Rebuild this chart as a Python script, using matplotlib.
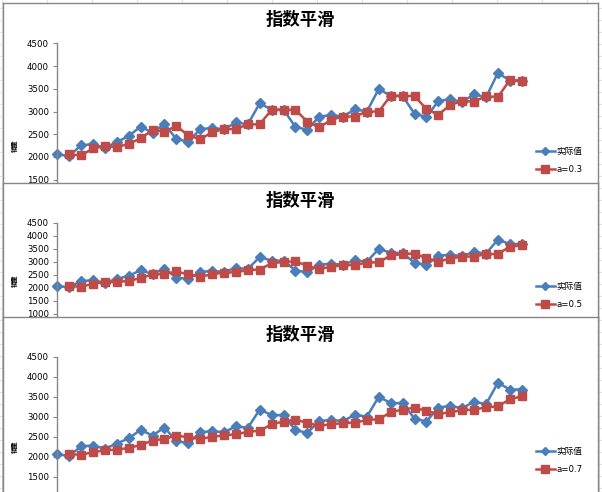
import matplotlib
matplotlib.use("Agg")
import matplotlib.pyplot as plt
from matplotlib.lines import Line2D

plt.rcParams['font.family'] = ['DejaVu Sans', 'Noto Sans CJK SC']

# actual values (40 periods)
actual = [2060, 2020, 2260, 2280, 2200, 2330, 2460, 2670, 2530, 2730,
          2390, 2340, 2610, 2640, 2610, 2760, 2720, 3180, 3040, 3040,
          2660, 2600, 2890, 2920, 2890, 3050, 3000, 3500, 3340, 3340,
          2950, 2880, 3230, 3270, 3210, 3380, 3310, 3850, 3680, 3680]

# smoothed values, start at period 2
smooth_03 = [2060, 2035, 2190, 2240, 2215, 2290, 2410, 2595, 2560, 2680,
             2475, 2390, 2545, 2615, 2615, 2715, 2720, 3040, 3040, 3040,
             2775, 2650, 2820, 2890, 2890, 3000, 3000, 3350, 3345, 3340,
             3055, 2930, 3145, 3230, 3220, 3335, 3320, 3690, 3675]
smooth_05 = [2060, 2040, 2150, 2215, 2210, 2270, 2365, 2515, 2525, 2625,
             2510, 2425, 2515, 2580, 2595, 2675, 2700, 2940, 2990, 3015,
             2840, 2720, 2805, 2860, 2875, 2965, 2980, 3240, 3290, 3315,
             3135, 3005, 3120, 3195, 3200, 3290, 3300, 3575, 3630]
smooth_07 = [2060, 2050, 2110, 2160, 2175, 2220, 2290, 2405, 2445, 2530,
             2485, 2445, 2495, 2535, 2560, 2620, 2650, 2810, 2880, 2925,
             2845, 2775, 2810, 2840, 2855, 2915, 2940, 3110, 3180, 3225,
             3145, 3065, 3115, 3160, 3175, 3235, 3260, 3435, 3510]

labels = ["a=0.3", "a=0.5", "a=0.7"]
series = [smooth_03, smooth_05, smooth_07]
# lowest tick label still visible on each chart
low_tick = [1500, 1000, 1500]

W, H = 602, 492
BLUE = '#4A7EBB'
RED = '#BE4B48'
GRAY = '#868686'


def box(x0, y0, x1, y1):
    return [x0 / W, 1 - y1 / H, (x1 - x0) / W, (y1 - y0) / H]


fig = plt.figure(figsize=(W / 100, H / 100), dpi=100)

# spreadsheet behind the charts
bg = fig.add_axes([0, 0, 1, 1])
bg.set_xlim(0, W)
bg.set_ylim(H, 0)
bg.axis('off')
for x in range(2, W, 45):
    bg.axvline(x, color='#DDE2EC', lw=0.8)
for y in range(8, H, 12):
    bg.axhline(y, color='#DDE2EC', lw=0.8)

# panel layout in pixels: top border, title y, y of 4500, y of 2000, legend rows
tops = [3, 183, 317]
title_y = [20, 201, 335]
y4500 = [43.3, 222.7, 356.7]
y2000 = [157, 287.7, 456.7]
leg_y = [155, 290, 455]

x_idx = list(range(len(actual)))
ax_left, ax_right = 57.3, 521.7

for i in range(3):
    panel = fig.add_axes(box(3, tops[i], 598, H + 10))
    panel.set_facecolor('white')
    panel.set_xticks([])
    panel.set_yticks([])
    for s in panel.spines.values():
        s.set_color(GRAY)
        s.set_linewidth(1)

    step = (y2000[i] - y4500[i]) / 5
    y0 = y4500[i] + 9 * step
    ax = fig.add_axes(box(ax_left, y4500[i], ax_right, y0))
    ax.set_facecolor('none')
    ax.plot(x_idx, actual, color=BLUE, lw=1.8, marker='D', ms=5,
            mec=BLUE, mfc=BLUE, clip_on=False, label='实际值')
    ax.plot(x_idx[1:], series[i], color=RED, lw=1.8, marker='s', ms=5.5,
            mec=RED, mfc=RED, clip_on=False, label=labels[i])
    ax.set_xlim(0, 39)
    ax.set_ylim(0, 4500)
    ax.set_yticks(range(low_tick[i], 4501, 500))
    ax.set_xticks([])
    for s in ['top', 'right', 'bottom']:
        ax.spines[s].set_visible(False)
    ax.spines['left'].set_color(GRAY)
    ax.spines['left'].set_linewidth(1)
    ax.tick_params(axis='y', direction='out', length=3, width=0.8,
                   color=GRAY, labelsize=6.2, pad=3)
    ax.set_ylabel('销量', fontsize=4.5, family=['Noto Sans CJK SC'],
                  fontweight='bold')
    ax.yaxis.set_label_coords((18 - ax_left) / (ax_right - ax_left), 0.5)

    fig.text(300 / W, 1 - title_y[i] / H, '指数平滑', ha='center', va='center',
             fontsize=12.5, fontweight='bold', family=['Noto Sans CJK SC'])

    handles = [Line2D([], [], color=BLUE, lw=1.8, marker='D', ms=4),
               Line2D([], [], color=RED, lw=1.8, marker='s', ms=5.5)]
    ax.legend(handles, ['实际值', labels[i]], loc='upper left',
              bbox_to_anchor=(536 / W, 1 - (leg_y[i] - 8) / H),
              bbox_transform=fig.transFigure, frameon=False,
              handlelength=2.2, handletextpad=0.15,
              labelspacing=1.0, borderpad=0, borderaxespad=0,
              prop={'family': ['DejaVu Sans', 'Noto Sans CJK SC'], 'size': 6.2})

fig.savefig('out.png', dpi=100)
